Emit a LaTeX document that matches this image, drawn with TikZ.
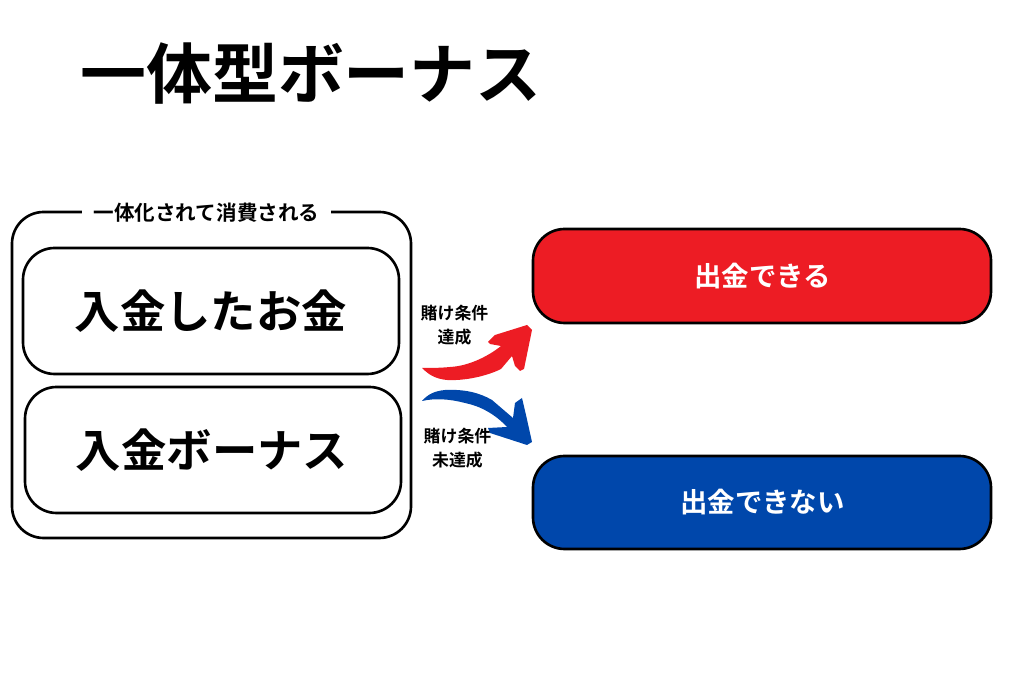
\documentclass[tikz,border=0pt]{standalone}
\usepackage{fontspec}
\setmainfont{Noto Sans CJK JP Bold}
\usepackage{color}
\definecolor{punainen}{HTML}{ED1C24}
\definecolor{sininen}{HTML}{0047AB}
\begin{document}
\begin{tikzpicture}[line cap=round,line join=round,x=0.01cm,y=-0.01cm,
	laatikko/.style={draw=black,line width=0.75pt,rounded corners=9pt,inner sep=0pt},
	otsikko/.style={inner sep=0pt,font=\fontsize{18.75pt}{20pt}\selectfont},
	pieni/.style={inner sep=0pt,font=\fontsize{4.8pt}{6.8pt}\selectfont,align=center},
	iso/.style={inner sep=0pt,font=\fontsize{12.9pt}{14pt}\selectfont},
	valkoinen/.style={inner sep=0pt,text=white,font=\fontsize{7.8pt}{9pt}\selectfont}]

		\useasboundingbox (0,0) rectangle (1024,683);

		% otsikko
		\node[otsikko] (title) at (311,74) {一体型ボーナス};

		% vasen laatikko
		\draw[laatikko] (12,212) rectangle (411,538);
		\node[fill=white,inner xsep=3.2pt,inner ysep=1pt,font=\fontsize{5.85pt}{7pt}\selectfont] (yhdessa) at (206.5,213) {一体化されて消費される};

		\draw[laatikko] (23,248) rectangle (399,374);
		\node[iso] (talletus) at (211,311) {入金したお金};

		\draw[laatikko] (25,387) rectangle (401,513);
		\node[iso] (bonus) at (212,450) {入金ボーナス};

		% oikeat laatikot
		\draw[laatikko,fill=punainen] (533,229) rectangle (991,323);
		\node[valkoinen] (voi) at (762.5,276) {出金できる};

		\draw[laatikko,fill=sininen] (533,456) rectangle (991,549);
		\node[valkoinen] (eivoi) at (762.5,502) {出金できない};

		% nuolet
		\fill[punainen] (422,368) .. controls (430,376) and (437,379) .. (447,380)
			.. controls (465,381) and (487,376) .. (501,369)
			-- (512,356) -- (515,366) -- (520,371) -- (524,369) -- (532,330) -- (527,325)
			-- (495,335) -- (488,342) -- (490,344) -- (501,346)
			.. controls (490,355) and (470,366) .. (450,367)
			.. controls (440,368) and (430,368) .. (422,368) -- cycle;

		\fill[sininen] (422,401) .. controls (428,394) and (435,391) .. (445,390)
			.. controls (465,389) and (480,393) .. (492,400)
			-- (513,418) -- (515,403) -- (522,398) -- (526,415) -- (532,442) -- (527,445)
			-- (490,433) -- (488,428) -- (507,427)
			.. controls (495,414) and (480,406) .. (465,403)
			.. controls (450,399) and (435,398) .. (422,401) -- cycle;

		% tekstit nuolten luona
		\node[pieni] (ehto) at (454.5,325) {賭け条件\\達成};
		\node[pieni] (eiehto) at (457.5,448) {賭け条件\\未達成};

	\end{tikzpicture}
\end{document}
